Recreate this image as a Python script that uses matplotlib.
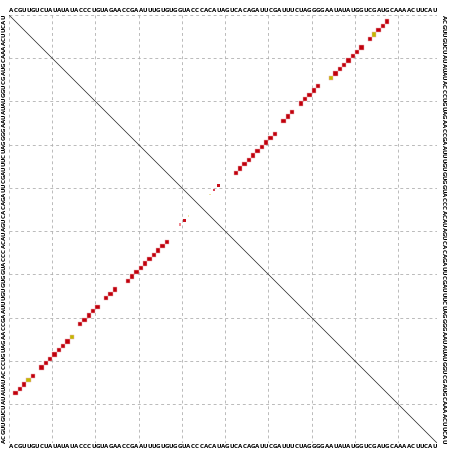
import matplotlib
matplotlib.use("Agg")
import matplotlib.pyplot as plt
from matplotlib.patches import Rectangle

# sequence shown on all four sides
seq = "ACGUUGUCUAUAUAUACCCUGUAGAACCGAAUU" \
      "UGUGUGGUACCCACAUAGUCACAGAUUCGAUU" \
      "UCUAGGGGAAUAUAUGGUCGAUGCAAAACUUCAU"

# helix base pairs (0-based i < j) and colour class (1 = one pair type, 2 = two types)
pair_i = [1, 2, 3, 4, 5, 7, 8, 9, 10, 11, 12, 13, 14, 16, 17, 18, 19, 20,
          22, 23, 24, 27, 28, 29, 30, 31, 32, 33, 34, 35, 36]
pair_j = [87, 86, 85, 84, 83, 81, 80, 79, 78, 77, 76, 75, 74, 71, 70, 69, 68, 67,
          65, 64, 63, 61, 60, 59, 58, 57, 56, 55, 54, 53, 52]
pair_cls = [1, 1, 1, 2, 1, 1, 1, 1, 1, 1, 1, 1, 2, 1, 1, 1, 1, 1,
            1, 1, 1, 1, 1, 1, 1, 1, 1, 1, 1, 1, 1]

# weak pairs near the hairpin
weak_i = [39, 40, 41]
weak_j = [48, 47, 46]
weak_size_up = [0.75, 0.5, 0.35]
weak_size_lo = [0.55, 0.7, 0.35]
weak_col_up = ["#c8101c", "#dc4050", "#ece4a8"]
weak_col_lo = ["#f08890", "#c8101c", "#ece4a8"]

n = len(seq)
colors = {1: "#c0000c", 2: "#c2b800"}

fig = plt.figure(figsize=(4.52, 4.51), dpi=100)
ax = fig.add_axes([9 / 452, (451 - 443) / 451, 428 / 452, 428 / 451])
ax.set_xlim(0, n)
ax.set_ylim(n, 0)
ax.axis("off")

# dashed grid every 10 nt (including the frame)
for k in range(0, n + 1, 10):
    ax.plot([k, k], [0, n], color="#b0b0b0", lw=0.6, ls=(0, (3.5, 3.5)), zorder=1)
    ax.plot([0, n], [k, k], color="#b0b0b0", lw=0.6, ls=(0, (3.5, 3.5)), zorder=1)

ax.plot([0, n], [0, n], color="#222222", lw=0.5, zorder=2)

h = 0.5
for i, j, c in zip(pair_i, pair_j, pair_cls):
    # upper right triangle
    ax.add_patch(Rectangle((j + 0.5 - h, i + 0.5 - h), 2 * h, 2 * h,
                           facecolor=colors[c], edgecolor="#eeb0b4", lw=0.35, zorder=3))
    # lower left triangle
    ax.add_patch(Rectangle((i + 0.5 - h, j + 0.5 - h), 2 * h, 2 * h,
                           facecolor=colors[c], edgecolor="#eeb0b4", lw=0.35, zorder=3))

for i, j, su, sl, cu, cl in zip(weak_i, weak_j, weak_size_up, weak_size_lo, weak_col_up, weak_col_lo):
    ax.add_patch(Rectangle((j + 0.5 - su / 2, i + 0.5 - su / 2), su, su,
                           facecolor=cu, edgecolor="none", zorder=3))
    ax.add_patch(Rectangle((i + 0.5 - sl / 2, j + 0.5 - sl / 2), sl, sl,
                           facecolor=cl, edgecolor="none", zorder=3))

fs = 4.0
for k, ch in enumerate(seq):
    ax.text(k + 0.5, -0.95, ch, fontsize=fs, fontweight="bold", ha="center", va="center", clip_on=False)
    ax.text(k + 0.5, n + 0.85, ch, fontsize=fs, fontweight="bold", ha="center", va="center", clip_on=False)
    ax.text(-1.15, n - k - 0.5, ch, fontsize=fs, fontweight="bold", ha="center", va="center",
            rotation=90, clip_on=False)
    ax.text(n + 1.4, k + 0.5, ch, fontsize=fs, fontweight="bold", ha="center", va="center",
            rotation=-90, clip_on=False)

fig.savefig("out.png", dpi=100)
